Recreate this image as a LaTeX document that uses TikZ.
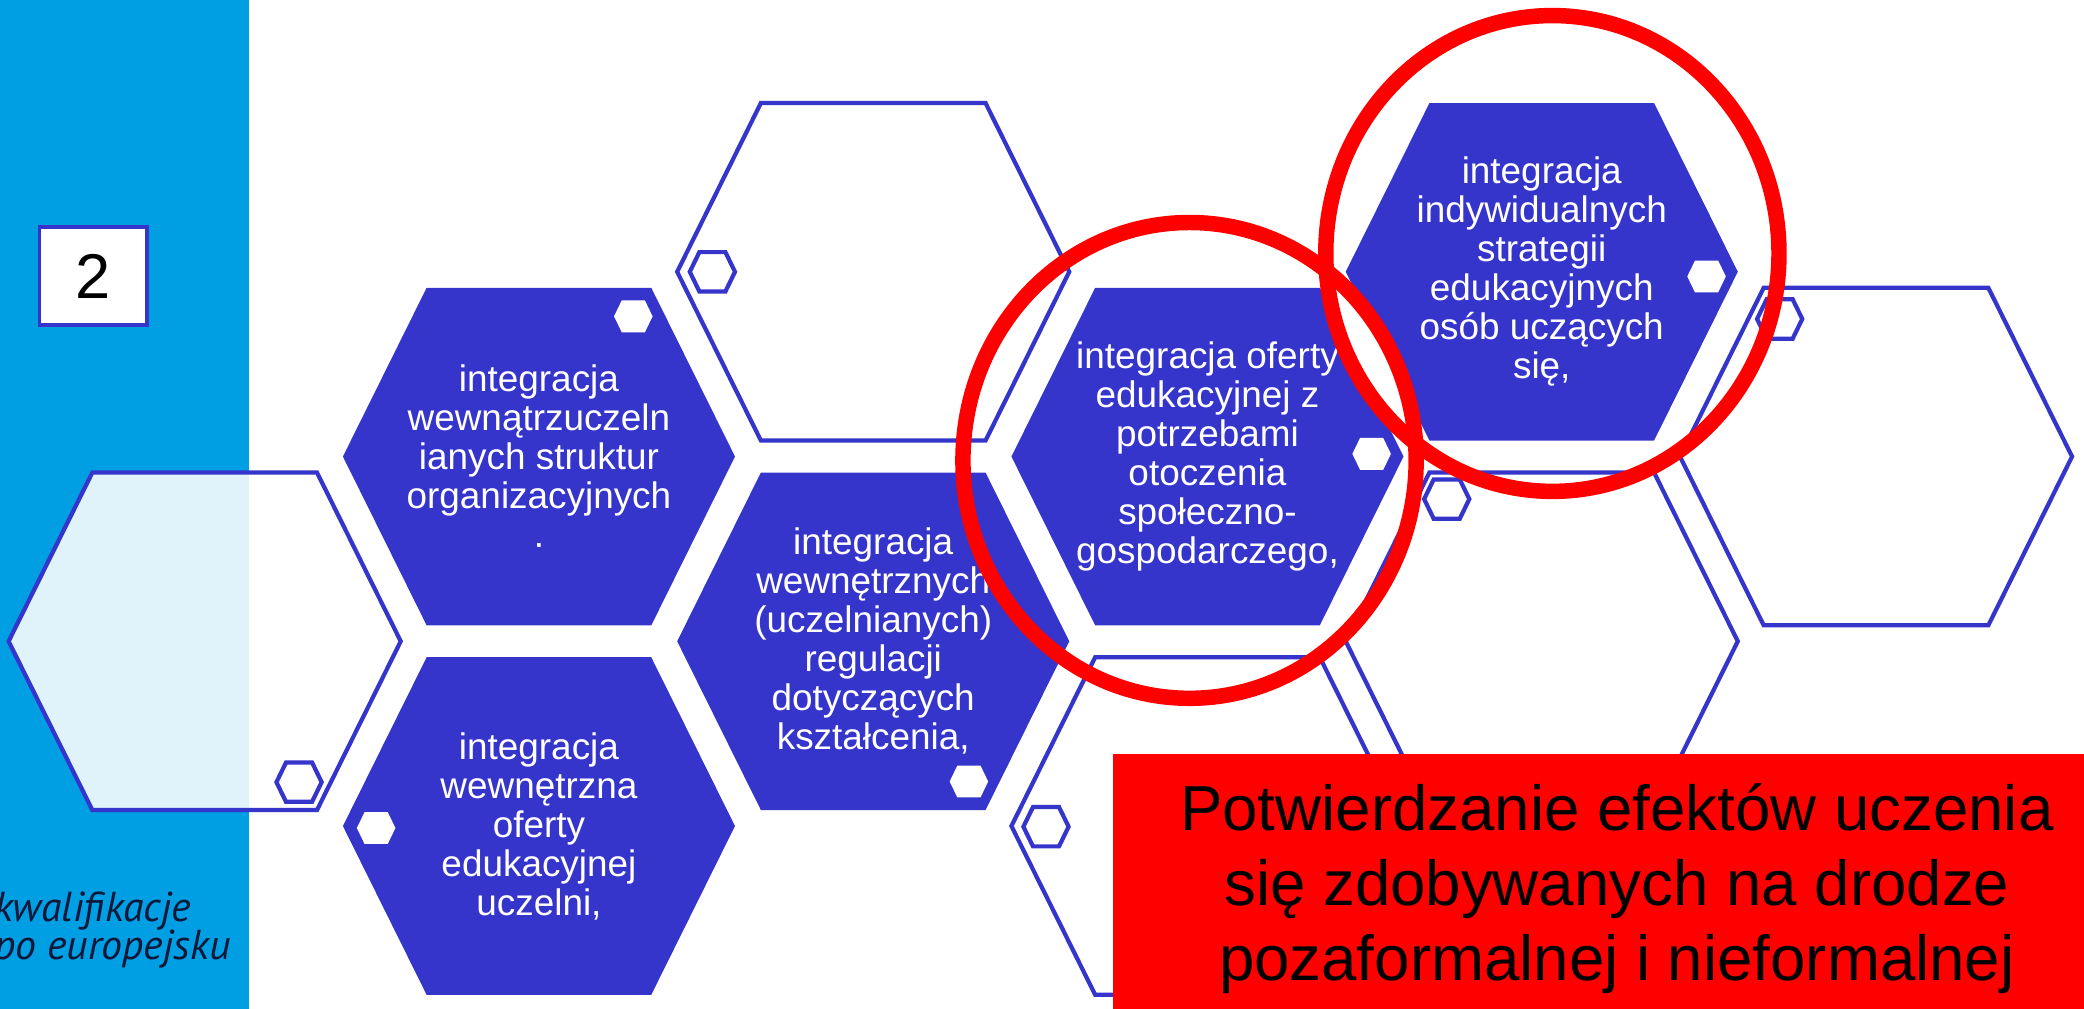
\documentclass[tikz,border=0pt]{standalone}
\usepackage{fontspec}
\setmainfont{Liberation Sans}
\newfontfamily\logofont{PT Sans}
\usepackage{xcolor}
\definecolor{hexblue}{HTML}{3535CC}
\definecolor{sidebar}{HTML}{009FE3}
\definecolor{logoink}{HTML}{10183A}
\definecolor{alertred}{HTML}{FF0000}
\tikzset{
  bighex/.pic={\path[pic actions] (-147.5,0) -- (-84.5,127) -- (84.5,127)
                 -- (147.5,0) -- (84.5,-127) -- (-84.5,-127) -- cycle;},
  dothex/.pic={\path[pic actions] (-14.5,0) -- (-8.7,12) -- (8.7,12)
                 -- (14.5,0) -- (8.7,-12) -- (-8.7,-12) -- cycle;},
  ringhex/.pic={\path[pic actions] (-17,0) -- (-9.8,14.8) -- (9.8,14.8)
                 -- (17,0) -- (9.8,-14.8) -- (-9.8,-14.8) -- cycle;},
  fullhex/.style={fill=hexblue},
  emptyhex/.style={draw=hexblue,line width=1.2pt,fill=white},
  glasshex/.style={draw=hexblue,line width=1.2pt,fill=white,fill opacity=0.88},
  whitedot/.style={fill=white},
  ringdot/.style={draw=hexblue,line width=1.2pt,fill=white},
  hextext/.style={text=white,align=center,inner sep=0pt,
                  font=\fontsize{10.5}{11.1}\selectfont},
  logotext/.style={text=logoink,inner sep=0pt,
                   font=\logofont\itshape\fontsize{11.9}{12.5}\selectfont},
  circlemark/.style={draw=alertred,line width=4.4pt},
  numbox/.style={draw=hexblue,fill=white,line width=1.1pt,inner sep=0pt,
                 minimum width=1.077cm,minimum height=0.98cm,
                 font=\fontsize{18}{20}\selectfont},
  alertbox/.style={fill=alertred,inner sep=0pt,
                   minimum width=9.71cm,minimum height=2.55cm},
  alerttext/.style={align=center,inner sep=0pt,
                    font=\fontsize{18.1}{21.3}\selectfont}
}
\begin{document}
\begin{tikzpicture}[x=0.013291cm,y=-0.013291cm]
  \useasboundingbox (0,0) rectangle (1568,759);
  \fill[sidebar] (0,0) rectangle (187.5,759);
  \node[numbox] (nr) at (70.2,207.8) {2};
  \node[logotext,anchor=base west] (kwal) at (-5,693.5) {kwalifikacje};
  \node[logotext,anchor=base west] (euro) at (-5,722) {po europejsku};

  \pic[glasshex] (hexA) at (154,482.5) {bighex};
  \pic[ringdot] at (225,588.5) {ringhex};
  \pic[fullhex] (hexB) at (405.5,343.5) {bighex};
  \pic[whitedot] at (476.5,238) {dothex};
  \pic[fullhex] (hexC) at (405.5,621.5) {bighex};
  \pic[whitedot] at (283,623) {dothex};
  \pic[emptyhex] (hexD) at (657,204.5) {bighex};
  \pic[ringdot] at (536,204.5) {ringhex};
  \pic[fullhex] (hexE) at (657,482.5) {bighex};
  \pic[whitedot] at (729,588) {dothex};
  \pic[fullhex] (hexF) at (908.5,343.5) {bighex};
  \pic[whitedot] at (1032,341.5) {dothex};
  \pic[emptyhex] (hexG) at (908.5,621.5) {bighex};
  \pic[ringdot] at (787,622) {ringhex};
  \pic[fullhex] (hexH) at (1160,204.5) {bighex};
  \pic[whitedot] at (1284,208) {dothex};
  \pic[emptyhex] (hexI) at (1160,482.5) {bighex};
  \pic[ringdot] at (1088.5,375.5) {ringhex};
  \pic[emptyhex] (hexJ) at (1411.5,343.5) {bighex};
  \pic[ringdot] at (1339,240) {ringhex};

  \node[hextext] (struktury) at (405.5,343.5)
    {integracja\\wewnątrzuczeln\\ianych struktur\\organizacyjnych\\.};
  \node[hextext] (oferta) at (405.5,621.5)
    {integracja\\wewnętrzna\\oferty\\edukacyjnej\\uczelni,};
  \node[hextext] (regulacje) at (657,482.5)
    {integracja\\wewnętrznych\\(uczelnianych)\\regulacji\\dotyczących\\kształcenia,};
  \node[hextext] (otoczenie) at (908.5,343.5)
    {integracja oferty\\edukacyjnej z\\potrzebami\\otoczenia\\społeczno-\\gospodarczego,};
  \node[hextext] (strategie) at (1160,204.5)
    {integracja\\indywidualnych\\strategii\\edukacyjnych\\osób uczących\\się,};

  \draw[circlemark] (895,346.4) ellipse [x radius=170.5,y radius=179];
  \draw[circlemark] (1168,190.7) ellipse [x radius=170.5,y radius=179];

  \node[alertbox] (valbox) at (1203,663.5) {};
  \node[alerttext] (valtext) at (1216.5,668.5)
    {Potwierdzanie efektów uczenia\\się zdobywanych na drodze\\pozaformalnej i nieformalnej};
\end{tikzpicture}
\end{document}
